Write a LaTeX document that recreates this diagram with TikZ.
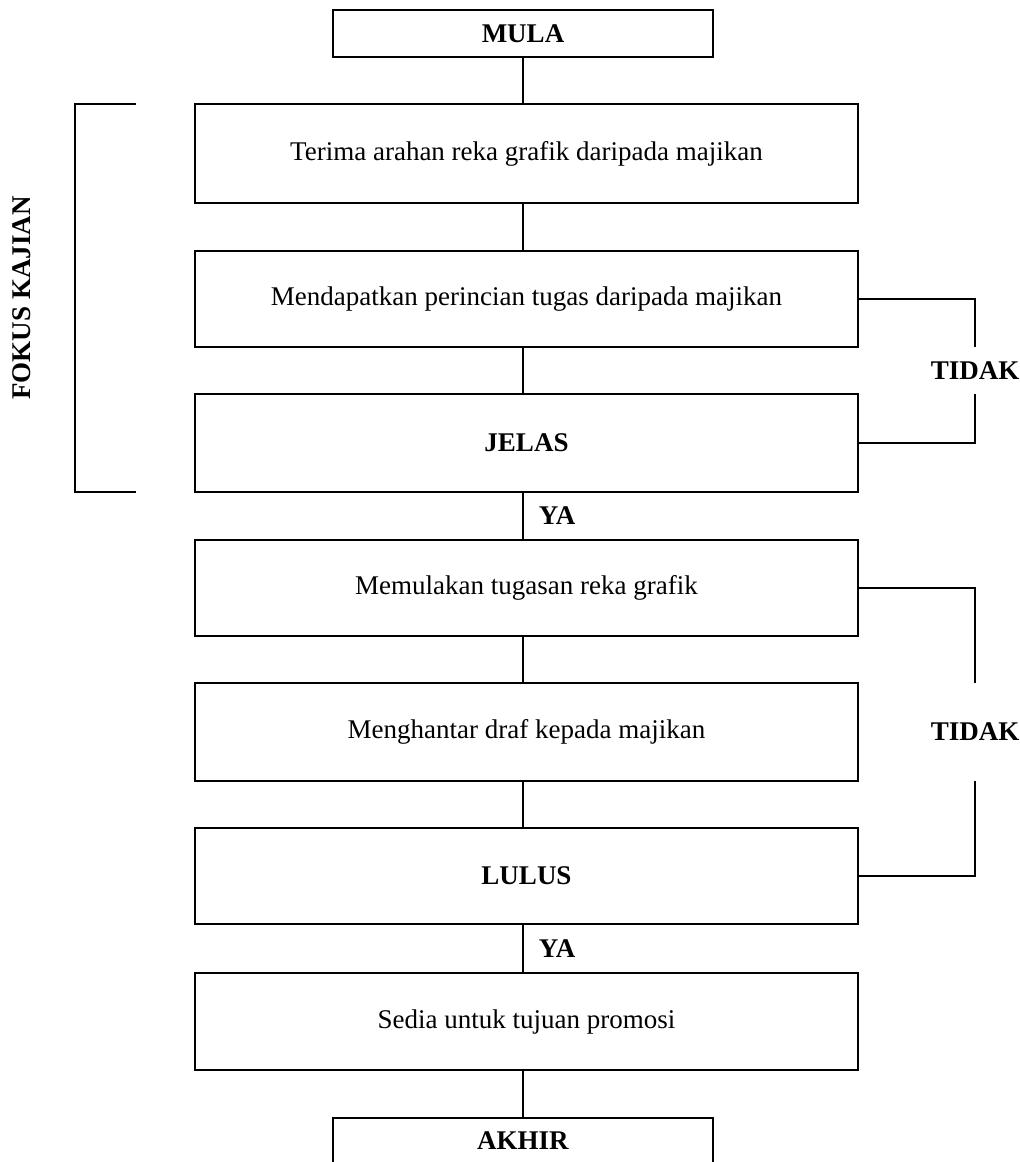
\documentclass[tikz,border=0pt]{standalone}
\usepackage{fontspec}
\setmainfont{Liberation Serif}
\usepackage{tikz}
\usetikzlibrary{positioning}
\tikzstyle{stepbox}=[rectangle,draw,line width=1.8pt,minimum width=663pt,inner sep=0pt]
\tikzstyle{endbox}=[rectangle,draw,line width=1.8pt,minimum width=380pt,inner sep=0pt]
\tikzstyle{link} = [draw,line width=1.8pt]
\tikzstyle{answer} = [font=\fontsize{27}{32}\selectfont\bfseries,inner sep=0pt]

\begin{document}
\begin{tikzpicture}[x=1pt,y=-1pt,font=\fontsize{27}{32}\selectfont]
    \clip (0,0) rectangle (1020,1162);

    \node[endbox,minimum height=47pt] (mula) at (523,33.5) {\textbf{MULA}};
    \node[endbox,minimum height=46pt] (akhir) at (523,1141) {\textbf{AKHIR}};

    \foreach \pos/\name/\h/\txt in {{(526.5,153.5)/terima/99/Terima arahan reka grafik daripada majikan},
                                   {(526.5,299)/perincian/96/Mendapatkan perincian tugas daripada majikan},
                                   {(526.5,443)/jelas/98/\textbf{JELAS}},
                                   {(526.5,588)/mulakan/96/Memulakan tugasan reka grafik},
                                   {(526.5,732)/draf/98/Menghantar draf kepada majikan},
                                   {(526.5,876)/lulus/96/\textbf{LULUS}},
                                   {(526.5,1021.5)/sedia/97/Sedia untuk tujuan promosi}}
        \node[stepbox,minimum height=\h pt] (\name) at \pos {\txt};

    % Connect boxes down the middle
    \foreach \source/\dest in {mula/terima, terima/perincian, perincian/jelas, mulakan/draf, draf/lulus, sedia/akhir}
        \path[link] (\source.south -| mula) -- (\dest.north -| mula);

    \foreach \source/\dest in {jelas/mulakan, lulus/sedia}
        \path[link] (\source.south -| mula) -- node[answer,right=15pt] {YA} (\dest.north -| mula);

    % TIDAK loops on the right
    \node[answer,minimum height=47pt] (tidak1) at (975,370.5) {TIDAK};
    \node[answer,minimum height=98pt] (tidak2) at (975,732) {TIDAK};
    \path[link] (perincian.east) -| (tidak1.north);
    \path[link] (tidak1.south) |- (jelas.east);
    \path[link] (mulakan.east) -| (tidak2.north);
    \path[link] (tidak2.south) |- (lulus.east);

    % bracket on the left
    \coordinate (fokustop) at (136,104);
    \coordinate (fokusbottom) at (136,492);
    \path[link] (fokustop) -- ++(-61,0) |- (fokusbottom);
    \node[answer,rotate=90] (fokus) at (22,298) {FOKUS KAJIAN};

\end{tikzpicture}
\end{document}
